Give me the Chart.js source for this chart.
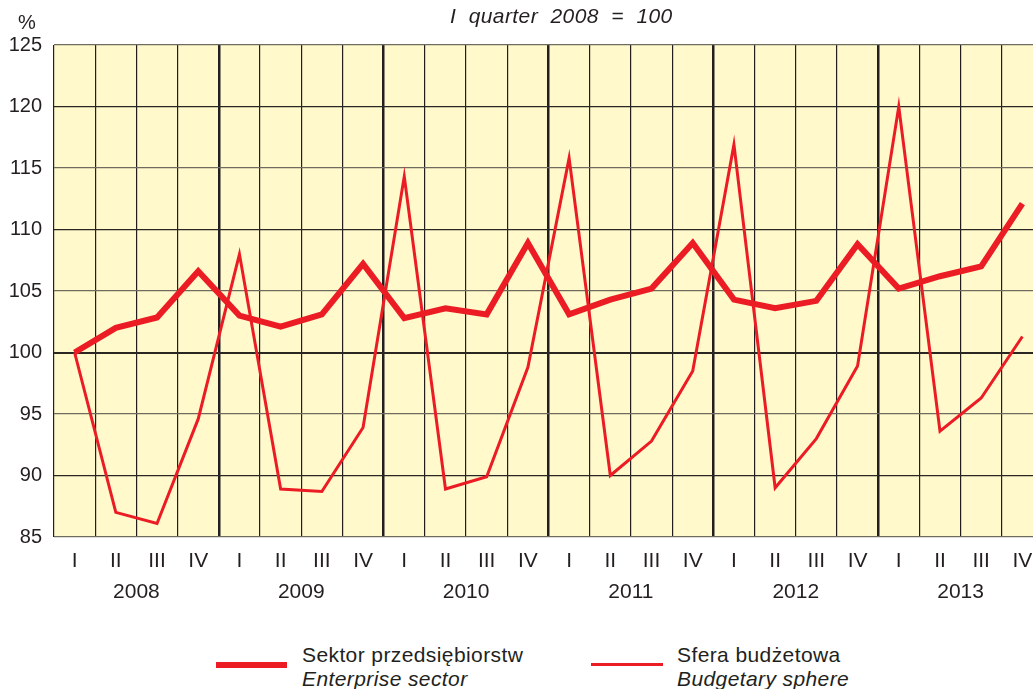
<!DOCTYPE html>
<html>
<head>
<meta charset="utf-8">
<script src="https://cdn.jsdelivr.net/npm/chart.js@4"></script>
<style>
  body { margin: 0; background: #fff; overflow: hidden; font-family: "Liberation Sans", Arial, sans-serif; color: #231f20; }
  #wrap { position: relative; width: 1045px; height: 689px; }
  #box { position: absolute; left: 0; top: 0; width: 1045px; height: 610px; }
  .txt { position: absolute; white-space: pre; line-height: 1; font-size: 21px; letter-spacing: 0.4px; }
  .sw { position: absolute; background: #ec1c24; }
</style>
</head>
<body>
<div id="wrap">
  <div class="box" id="box"><canvas id="chart"></canvas></div>
  <div class="txt" style="left:18px; top:12px; font-size:20px; letter-spacing:0;">%</div>
  <div class="txt" style="left:450px; top:5px; font-style:italic;">I  quarter  2008  =  100</div>

  <div class="sw" style="left:216px; top:662px; width:71px; height:6px;"></div>
  <div class="txt" style="left:302px; top:644px;">Sektor przedsiębiorstw</div>
  <div class="txt" style="left:302px; top:668px; font-style:italic;">Enterprise sector</div>

  <div class="sw" style="left:591px; top:663px; width:72px; height:3px;"></div>
  <div class="txt" style="left:677px; top:644px;">Sfera budżetowa</div>
  <div class="txt" style="left:677px; top:668px; font-style:italic;">Budgetary sphere</div>
</div>
<script>
let years = ['2008', '2009', '2010', '2011', '2012', '2013'];
let quarters = ['I', 'II', 'III', 'IV'];
let lbs = [];
for (let y = 0; y < years.length; y++) {
    for (let q = 0; q < quarters.length; q++) {
        lbs.push(quarters[q]);
    }
}

// I quarter 2008 = 100
let enterprise = [100, 102.0, 102.85, 106.6, 103.0, 102.1, 103.1, 107.2, 102.8, 103.6, 103.1, 108.9,
    103.1, 104.3, 105.2, 108.9, 104.3, 103.6, 104.2, 108.8, 105.2, 106.2, 107.0, 112.1];
let budget = [100, 87.0, 86.1, 94.6, 108.0, 88.9, 88.7, 93.9, 114.3, 88.9, 89.9, 98.8,
    115.8, 90.0, 92.8, 98.5, 116.9, 89.0, 93.0, 98.9, 120.0, 93.6, 96.3, 101.3];

const red = '#ec1c24';
const ink = '#231f20';

// yellow plot background
const plotBg = {
    id: 'plotBg',
    beforeDraw(chart) {
        const a = chart.chartArea;
        const c = chart.ctx;
        c.save();
        c.fillStyle = '#fff9cc';
        c.fillRect(a.left, a.top, a.right - a.left, a.bottom - a.top);
        c.restore();
    }
};

// second row of x labels: years under their quarters
const yearRow = {
    id: 'yearRow',
    afterDraw(chart) {
        const x = chart.scales.x;
        const c = chart.ctx;
        c.save();
        c.font = '21px "Liberation Sans", Arial, sans-serif';
        c.fillStyle = ink;
        c.textAlign = 'center';
        c.textBaseline = 'middle';
        years.forEach((y, i) => {
            let cx = (x.getPixelForValue(i * 4) + x.getPixelForValue(i * 4 + 3)) / 2;
            c.fillText(y, cx, 592);
        });
        c.restore();
    }
};

var ctx = document.getElementById('chart');
var chart = new Chart(ctx, {
    type: 'line',
    data: {
        labels: lbs,
        datasets: [{
            label: 'Sfera budżetowa',
            data: budget,
            borderColor: red,
            borderWidth: 3,
            pointRadius: 0,
            tension: 0,
            order: 0
        }, {
            label: 'Sektor przedsiębiorstw',
            data: enterprise,
            borderColor: red,
            borderWidth: 6,
            pointRadius: 0,
            tension: 0,
            order: 1
        }]
    },
    options: {
        responsive: true,
        maintainAspectRatio: false,
        animation: false,
        layout: {
            padding: { top: 45, left: 0, right: 2, bottom: 0 }
        },
        scales: {
            x: {
                offset: true,
                afterFit: (s) => { s.height = 73; },
                border: { display: false },
                grid: {
                    offset: true,
                    drawTicks: false,
                    color: ink,
                    lineWidth: (c) => (c.index % 4 == 0 && c.index > 0) ? 2.5 : 1.2
                },
                ticks: {
                    color: ink,
                    padding: 12,
                    autoSkip: false,
                    maxRotation: 0,
                    font: { family: '"Liberation Sans", Arial, sans-serif', size: 21 }
                }
            },
            y: {
                min: 85,
                max: 125,
                afterFit: (s) => { s.width = 54; },
                border: { display: false },
                grid: {
                    drawTicks: false,
                    color: (c) => (c.tick && c.tick.value % 10 == 5) ? '#6f6b5e' : '#2a2622',
                    lineWidth: (c) => (c.tick && c.tick.value == 100) ? 2 : 1.3
                },
                ticks: {
                    stepSize: 5,
                    color: ink,
                    padding: 12,
                    font: { family: '"Liberation Sans", Arial, sans-serif', size: 20 }
                }
            }
        },
        plugins: {
            legend: { display: false },
            tooltip: { enabled: false }
        }
    },
    plugins: [plotBg, yearRow]
});
</script>
</body>
</html>
